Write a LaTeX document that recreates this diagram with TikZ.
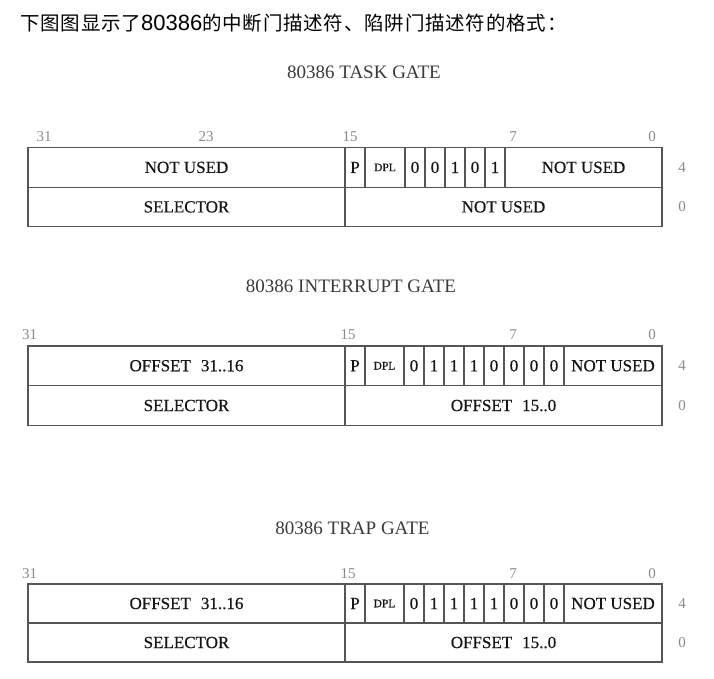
\documentclass[tikz,border=0pt]{standalone}
\usepackage{fontspec}
\setmainfont{Liberation Serif}
\newfontfamily\cjkfont{Noto Sans CJK SC}[LetterSpace=4]
\newfontfamily\arialfont{Liberation Sans}
\newfontfamily\boxfont{Liberation Serif}[FakeBold=0.5]
\definecolor{linec}{HTML}{555555}
\definecolor{txtc}{HTML}{151515}
\definecolor{lblc}{HTML}{8A8A8A}
\definecolor{titc}{HTML}{3A3A3A}
\newcommand\cellnode[6]{\node[cell, minimum width={#3-#2}, minimum height={#5-#4}] (#1) at ({(#2+#3)/2},{(#4+#5)/2}) {#6};}
\begin{document}
\begin{tikzpicture}[x=1pt,y=-1pt,
  cell/.style={draw=linec, line width=1.3pt, inner sep=0pt, outer sep=0pt, font=\boxfont\fontsize{17}{17}\selectfont, text=txtc},
  bitlbl/.style={font=\fontsize{15}{15}\selectfont, text=lblc, inner sep=0pt},
  gtitle/.style={font=\fontsize{19}{19}\selectfont, text=titc, inner sep=0pt}]
\useasboundingbox (0,0) rectangle (714,678);

% header
\node[anchor=west, inner sep=0pt, text=black] (hdr) at (20,23)
  {\fontsize{19.5}{20}\selectfont\cjkfont 下图图显示了{\arialfont\fontsize{22}{22}\selectfont 80386}的中断门描述符、陷阱门描述符的格式：};

% ===== TASK GATE =====
\node[gtitle] (ttitle) at (364,72) {80386 TASK GATE};
\node[bitlbl] (t31) at (44,137) {31};
\node[bitlbl] (t23) at (206,137) {23};
\node[bitlbl] (t15) at (350,137) {15};
\node[bitlbl] (t7) at (513,137) {7};
\node[bitlbl] (t0) at (652,137) {0};
\node[bitlbl] (tr4) at (682,167.5) {4};
\node[bitlbl] (tr0) at (682,207) {0};
\cellnode{tA}{28}{345}{147.5}{187.3}{NOT USED}
\cellnode{tP}{345}{365}{147.5}{187.3}{P}
\cellnode{tD}{365}{405}{147.5}{187.3}{\fontsize{11.5}{12}\selectfont DPL}
\foreach \v [count=\i] in {0,0,1,0,1} {
  \pgfmathsetmacro\xa{385+20*\i}
  \pgfmathsetmacro\xb{\xa+20}
  \cellnode{tb\i}{\xa}{\xb}{147.5}{187.3}{\v}
}
\cellnode{tN}{505}{662}{147.5}{187.3}{NOT USED}
\cellnode{tS}{28}{345}{187.3}{226.5}{SELECTOR}
\cellnode{tN2}{345}{662}{187.3}{226.5}{NOT USED}

% ===== INTERRUPT GATE =====
\node[gtitle] (ititle) at (351,286.5) {80386 INTERRUPT GATE};
\node[bitlbl] (i31) at (29.5,335) {31};
\node[bitlbl] (i15) at (348,335) {15};
\node[bitlbl] (i7) at (513,335) {7};
\node[bitlbl] (i0) at (652,335) {0};
\node[bitlbl] (ir4) at (682,366) {4};
\node[bitlbl] (ir0) at (682,405.5) {0};
\cellnode{iA}{28}{345}{346}{385.5}{OFFSET\hspace{10pt}31..16}
\cellnode{iP}{345}{365}{346}{385.5}{P}
\cellnode{iD}{365}{404}{346}{385.5}{\fontsize{11.5}{12}\selectfont DPL}
\foreach \v [count=\i] in {0,1,1,1,0,0,0,0} {
  \pgfmathsetmacro\xa{384+20*\i}
  \pgfmathsetmacro\xb{\xa+20}
  \cellnode{ib\i}{\xa}{\xb}{346}{385.5}{\v}
}
\cellnode{iN}{564}{662}{346}{385.5}{NOT USED}
\cellnode{iS}{28}{345}{385.5}{425.5}{SELECTOR}
\cellnode{iO}{345}{662}{385.5}{425.5}{OFFSET\hspace{10pt}15..0}

% ===== TRAP GATE =====
\node[gtitle] (ptitle) at (352.5,528.5) {80386 TRAP GATE};
\node[bitlbl] (p31) at (29.5,573.5) {31};
\node[bitlbl] (p15) at (348,573.5) {15};
\node[bitlbl] (p7) at (513,573.5) {7};
\node[bitlbl] (p0) at (652,573.5) {0};
\node[bitlbl] (pr4) at (682,604) {4};
\node[bitlbl] (pr0) at (682,643) {0};
\cellnode{pA}{28}{345}{584}{623}{OFFSET\hspace{10pt}31..16}
\cellnode{pP}{345}{365}{584}{623}{P}
\cellnode{pD}{365}{404}{584}{623}{\fontsize{11.5}{12}\selectfont DPL}
\foreach \v [count=\i] in {0,1,1,1,1,0,0,0} {
  \pgfmathsetmacro\xa{384+20*\i}
  \pgfmathsetmacro\xb{\xa+20}
  \cellnode{pb\i}{\xa}{\xb}{584}{623}{\v}
}
\cellnode{pN}{564}{662}{584}{623}{NOT USED}
\cellnode{pS}{28}{345}{623}{662}{SELECTOR}
\cellnode{pO}{345}{662}{623}{662}{OFFSET\hspace{10pt}15..0}
\end{tikzpicture}
\end{document}
